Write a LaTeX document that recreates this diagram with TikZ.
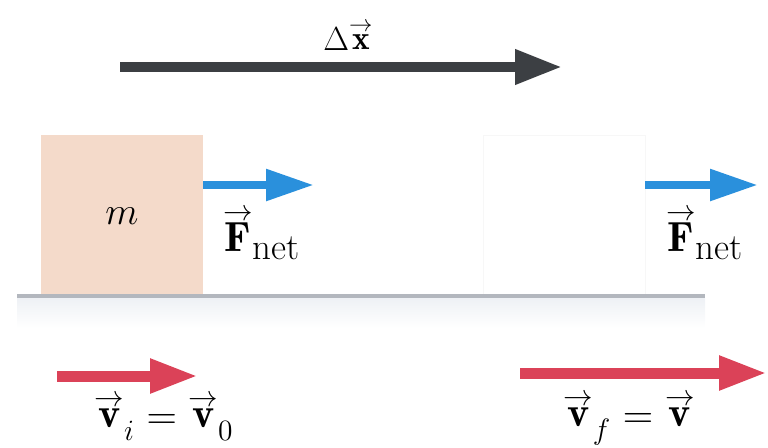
\RequirePackage{fix-cm}
\documentclass[tikz,border=0pt]{standalone}
\usepackage{fontspec}
\usetikzlibrary{arrows.meta, positioning, calc}
\definecolor{blockfill}{HTML}{F4DACA}
\definecolor{dispgray}{HTML}{3C3F43}
\definecolor{forceblue}{HTML}{2A90DC}
\definecolor{velred}{HTML}{DB4258}
\definecolor{floorgray}{HTML}{B3B7BE}
\definecolor{floorshade}{HTML}{EEF1F5}
\newcommand{\arrowvec}[1]{\mathord{\stackrel{\raisebox{-0.02em}{$\scriptstyle\rightarrow$}}{\mathbf{#1}}}}
\newcommand{\lowsub}[1]{\raisebox{-0.12em}{#1}}

\begin{document}
\begin{tikzpicture}[x=0.02cm, y=-0.02cm,
      block/.style={minimum width=3.24cm, minimum height=3.24cm, inner sep=0pt},
      dispvec/.style={draw=dispgray, line width=0.2cm,
        -{Triangle[length=0.94cm, width=0.66cm]}},
      forcevec/.style={draw=forceblue, line width=0.17cm,
        -{Triangle[length=0.96cm, width=0.6cm]}},
      velvec/.style={draw=velred, line width=0.22cm,
        -{Triangle[length=0.96cm, width=0.64cm]}},
      veclabel/.style={anchor=base, inner sep=0pt,
        font=\fontsize{24}{24}\selectfont}
    ]
      \useasboundingbox (0,0) rectangle (768,447);
      % floor
      \shade[top color=floorshade, bottom color=white] (17,298) rectangle (705,328);
      \node[block, fill=blockfill] (blockm) at (122,216)
        {\fontsize{22}{22}\selectfont$m$};
      \node[block, fill=white, draw=black!3] (blockf) at (564,216) {};
      \fill[floorgray] (17,294) rectangle (705,298);
      % displacement
      \coordinate (dxstart) at (120,67);
      \coordinate (dxend) at (562,67);
      \draw[dispvec] (dxstart) -- (dxend);
      \node[anchor=base, inner sep=0pt, font=\fontsize{19}{19}\selectfont]
        (dxlabel) at (348,50) {$\Delta\arrowvec{x}$};
      % net force
      \coordinate (fitip) at (314,185);
      \coordinate (fftip) at (758,185);
      \draw[forcevec] (blockm.east |- fitip) -- (fitip);
      \draw[forcevec] (blockf.east |- fftip) -- (fftip);
      \node[veclabel] (filabel) at (262,248)
        {$\arrowvec{F}_{\lowsub{\fontsize{21}{21}\selectfont net}}$};
      \node[veclabel] (fflabel) at (705,248)
        {$\arrowvec{F}_{\lowsub{\fontsize{21}{21}\selectfont net}}$};
      % velocities
      \coordinate (vistart) at (57,376);
      \coordinate (vitip) at (198,376);
      \coordinate (vfstart) at (520,373);
      \coordinate (vftip) at (767,373);
      \draw[velvec] (vistart) -- (vitip);
      \draw[velvec] (vfstart) -- (vftip);
      \node[veclabel] (vilabel) at (164,429)
        {$\arrowvec{v}_{\lowsub{$\scriptstyle i$}} = \arrowvec{v}_{\lowsub{$\scriptstyle 0$}}$};
      \node[veclabel] (vflabel) at (629,428)
        {$\arrowvec{v}_{\lowsub{$\scriptstyle f$}} = \arrowvec{v}$};
    \end{tikzpicture}
\end{document}
